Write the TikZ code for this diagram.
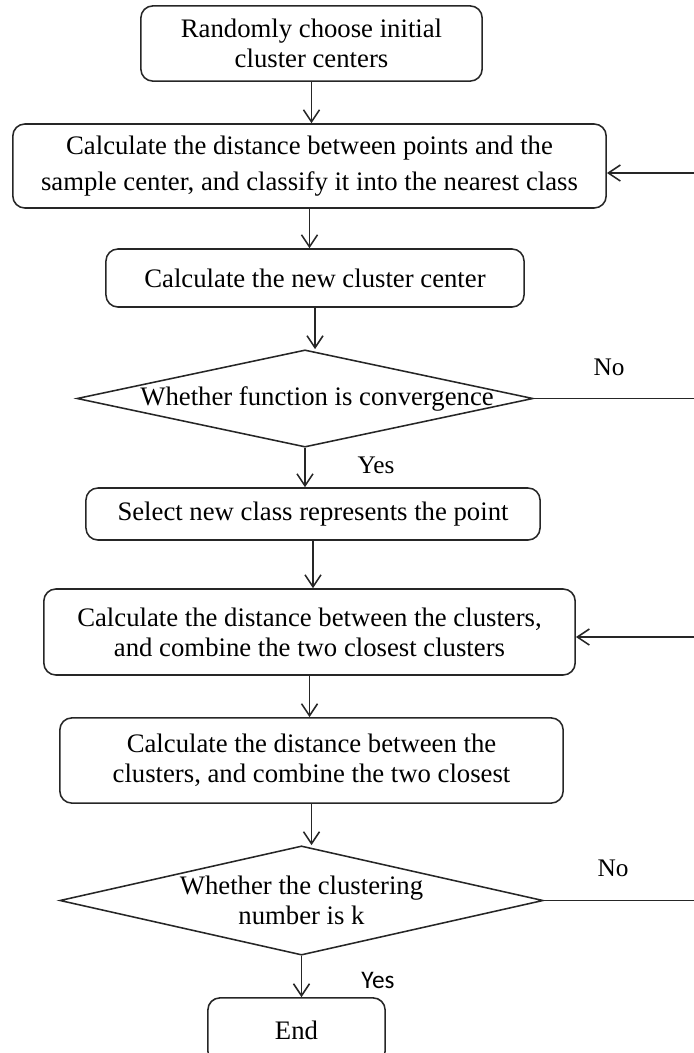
\documentclass[tikz,border=0pt]{standalone}
\usepackage{fontspec}
\setmainfont{Liberation Serif}
\newfontfamily\yesfont{Carlito}
\usetikzlibrary{arrows.meta,shapes.geometric}

\begin{document}
\begin{tikzpicture}[x=0.025cm,y=-0.025cm,>={Straight Barb[length=3mm,width=4mm]},
  proc/.style={draw=black!85,line width=1.1pt,rounded corners=0.3cm,align=center,font=\fontsize{19}{21.5}\selectfont,inner sep=2pt},
  dec/.style={draw=black!85,line width=1.1pt,diamond,aspect=4.6,align=center,font=\fontsize{19}{21.5}\selectfont,inner sep=0pt},
  flow/.style={->,draw=black!85,line width=1.1pt},
  lbl/.style={font=\fontsize{18}{20}\selectfont}]
\useasboundingbox (0,0) rectangle (694,1053);
% steps of the chain
\node[proc,minimum width=8.53cm,minimum height=1.88cm] (b0) at (311.5,43.5) {Randomly choose initial\\cluster centers};
\node[proc,minimum width=14.83cm,minimum height=2.1cm,font=\fontsize{19}{26}\selectfont] (b1) at (309.5,166) {Calculate the distance between points and the\\sample center, and classify it into the nearest class};
\node[proc,minimum width=10.45cm,minimum height=1.45cm] (b2) at (315,278) {Calculate the new cluster center};
\node[dec,minimum width=11.4cm,minimum height=2.43cm] (d0) at (305,398.5) {\makebox[0pt]{\hspace*{0.6cm}Whether function is convergence}};
\node[proc,minimum width=11.35cm,minimum height=1.3cm] (b3) at (313,514) {Select new class represents the point};
\node[proc,minimum width=13.28cm,minimum height=2.15cm] (b4) at (309.5,632) {Calculate the distance between the clusters,\\and combine the two closest clusters};
\node[proc,minimum width=12.58cm,minimum height=2.13cm] (b5) at (311.5,760.5) {Calculate the distance between the\\clusters, and combine the two closest};
\node[dec,minimum width=12.08cm,minimum height=2.73cm] (d1) at (301.5,900.5) {Whether the clustering\\number is k};
\node[proc,minimum width=4.43cm,minimum height=1.63cm] (e0) at (296.5,1030.5) {End};
% labels
\node[lbl] (no0) at (609,367) {No};
\node[lbl] (yes0) at (376,465) {Yes};
\node[lbl] (no1) at (613,868) {No};
\node[lbl,font=\yesfont\fontsize{18}{20}\selectfont] (yes1) at (378,980) {Yes};
% loose ends at the right edge
\coordinate (r0) at (694,173);
\coordinate (n0) at (694,398.5);
\coordinate (r1) at (694,637);
\coordinate (n1) at (694,900.5);
\draw[flow] (b0) -- (b0 |- b1.north);
\draw[flow] (b1) -- (b1 |- b2.north);
\draw[flow] (b2) -- (b2 |- d0.north);
\draw[flow] (d0) -- (d0 |- b3.north);
\draw[flow] (b3) -- (b3 |- b4.north);
\draw[flow] (b4) -- (b4 |- b5.north);
\draw[flow] (b5) -- (b5 |- d1.north);
\draw[flow] (d1) -- (d1 |- e0.north);
\draw[draw=black!85,line width=1.1pt] (d0.east) -- (n0);
\draw[draw=black!85,line width=1.1pt] (d1.east) -- (n1);
\draw[flow] (r0) -- (r0 -| b1.east);
\draw[flow] (r1) -- (r1 -| b4.east);
\end{tikzpicture}
\end{document}
